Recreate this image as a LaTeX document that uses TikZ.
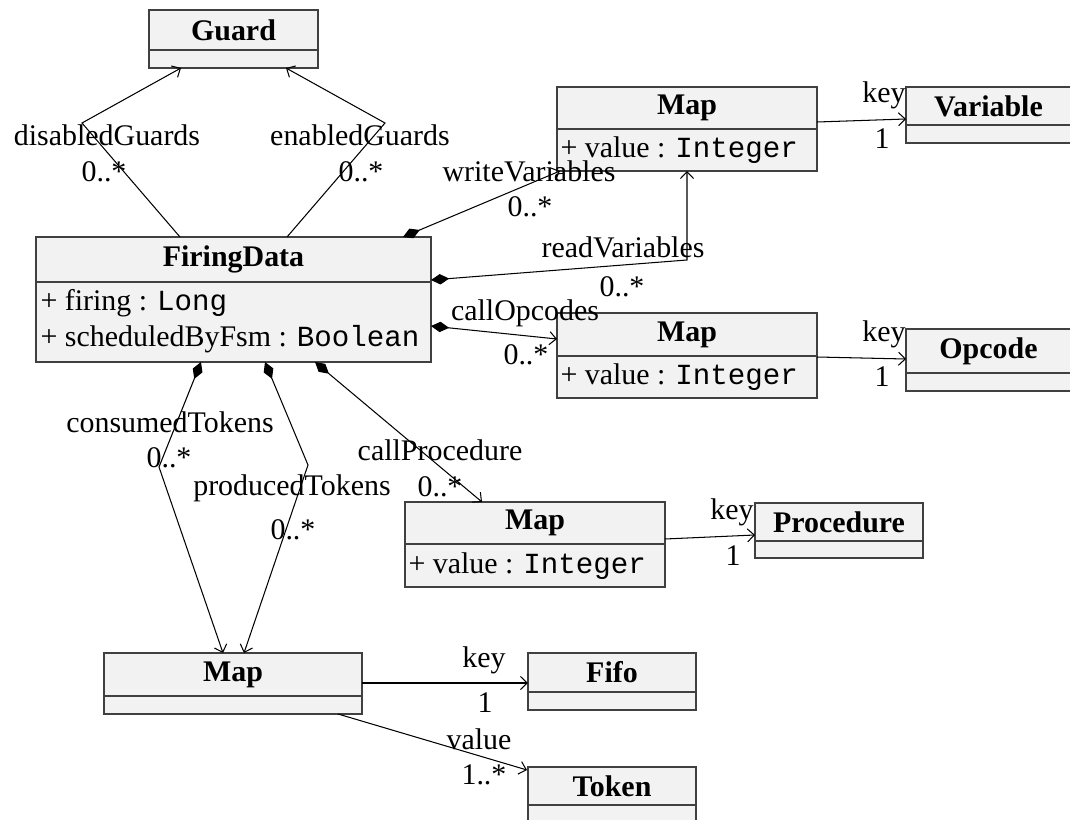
\documentclass[tikz,border=0pt]{standalone}
\usepackage{fontspec}
\setmainfont{Liberation Serif}
\setmonofont{Liberation Mono}
\usetikzlibrary{calc,arrows.meta,positioning}

\definecolor{boxfill}{RGB}{242,242,242}
\definecolor{boxline}{RGB}{64,64,64}

\newcommand{\typename}[1]{{\fontsize{11.2}{13}\selectfont\ttfamily #1}}

\begin{document}
\begin{tikzpicture}[x=0.0135cm,y=-0.0135cm,
    every node/.style={font=\fontsize{11.5}{13}\selectfont},
    classbox/.style={draw=boxline, line width=0.5pt},
    classname/.style={font=\fontsize{11.5}{13}\selectfont\bfseries, inner sep=0pt},
    attr/.style={anchor=west, inner sep=0pt},
    role/.style={inner sep=0pt},
    assoc/.style={thin, -{Straight Barb[length=2.6pt,width=5pt]}},
    comp/.style={thin, {Diamond[length=7pt,width=4pt]}-{Straight Barb[length=2.6pt,width=5pt]}}]

    \clip (0,0) rectangle (1070,820);

    % class boxes: name / corners / divider / title
    \foreach \n/\xa/\ya/\xb/\yb/\yd/\t in
    {guard/149/10/318/68/50/Guard,
     firingData/36/237/431/362/282/FiringData,
     mapWrite/557/87/817/171/129/Map,
     variable/906/87/1071/143/125/Variable,
     mapOpcode/557/313/817/398/356/Map,
     opcode/906/329/1071/391/373/Opcode,
     mapProc/405/502/665/587/544/Map,
     procedure/755/503/923/558/541/Procedure,
     mapToken/104/653/362/714/696/Map,
     fifo/528/653/696/710/692/Fifo,
     token/528/767/696/830/805/Token
    }
    {
        \draw[classbox, fill=boxfill] (\xa,\ya) rectangle (\xb,\yb);
        \draw[classbox] (\xa,\yd) -- (\xb,\yd);
        \node[classname] (\n) at ({(\xa+\xb)/2},{(\ya+\yd)/2}) {\t};
    };

    % attributes
    \node[attr] (fdFiring) at (40,303) {+ firing : \typename{Long}};
    \node[attr] (fdSched) at (40,339) {+ scheduledByFsm : \typename{Boolean}};
    \node[attr] (mwValue) at (560,150) {+ value : \typename{Integer}};
    \node[attr] (moValue) at (560,377) {+ value : \typename{Integer}};
    \node[attr] (mpValue) at (408,566) {+ value : \typename{Integer}};

    % end points on the boxes and bends
    \coordinate (cFdDisPt) at (180,237);
    \coordinate (cDisBendPt) at (82,123);
    \coordinate (cGuardDisPt) at (181,68);
    \coordinate (cFdEnPt) at (287,237);
    \coordinate (cEnBendPt) at (385,123);
    \coordinate (cGuardEnPt) at (286,68);
    \coordinate (cFdWritePt) at (403,237);
    \coordinate (cMwWritePt) at (560,171);
    \coordinate (cFdReadPt) at (431,280);
    \coordinate (cReadBendPt) at (687,260);
    \coordinate (cMwReadPt) at (687,171);
    \coordinate (cFdOpPt) at (431,326);
    \coordinate (cMoOpPt) at (557,339);
    \coordinate (cFdProcPt) at (315,362);
    \coordinate (cMpProcPt) at (482,502);
    \coordinate (cFdConsPt) at (201,362);
    \coordinate (cConsBendPt) at (159,467);
    \coordinate (cMtConsPt) at (223,653);
    \coordinate (cFdProdPt) at (265,362);
    \coordinate (cProdBendPt) at (308,465);
    \coordinate (cMtProdPt) at (244,653);

    \draw[assoc] (cFdDisPt) -- (cDisBendPt) -- (cGuardDisPt);
    \draw[assoc] (cFdEnPt) -- (cEnBendPt) -- (cGuardEnPt);
    \draw[comp] (cFdWritePt) -- (cMwWritePt);
    \draw[comp] (cFdReadPt) -- (cReadBendPt) -- (cMwReadPt);
    \draw[comp] (cFdOpPt) -- (cMoOpPt);
    \draw[comp] (cFdProcPt) -- (cMpProcPt);
    \draw[comp] (cFdConsPt) -- (cConsBendPt) -- (cMtConsPt);
    \draw[comp] (cFdProdPt) -- (cProdBendPt) -- (cMtProdPt);

    % keys and values of the maps
    \draw[assoc] (817,122) -- (906,119);
    \draw[assoc] (817,357) -- (906,359);
    \draw[assoc] (665,539) -- (755,535);
    \draw[assoc] (362,683) -- (528,683);
    \draw[assoc] (338,714) -- (527,770);

    % role names and multiplicities
    \foreach \x/\y/\t [count=\i] in
    {107/135/disabledGuards, 104/172/{0..*},
     360/135/enabledGuards, 361/172/{0..*},
     529/171/writeVariables, 530/207/{0..*},
     623/247/readVariables, 622/287/{0..*},
     525/313/callOpcodes, 526/355/{0..*},
     440/450/callProcedure, 440/487/{0..*},
     170/422/consumedTokens, 169/458/{0..*},
     292/488/producedTokens, 293/530/{0..*},
     884/95/key, 882/139/1,
     884/334/key, 882/377/1,
     732/512/key, 733/556/1,
     484/660/key, 485/703/1,
     479/739/value, 484/775/{1..*}
    }
    {
        \node[role] (lbl\i) at (\x,\y) {\t};
    };

\end{tikzpicture}
\end{document}
